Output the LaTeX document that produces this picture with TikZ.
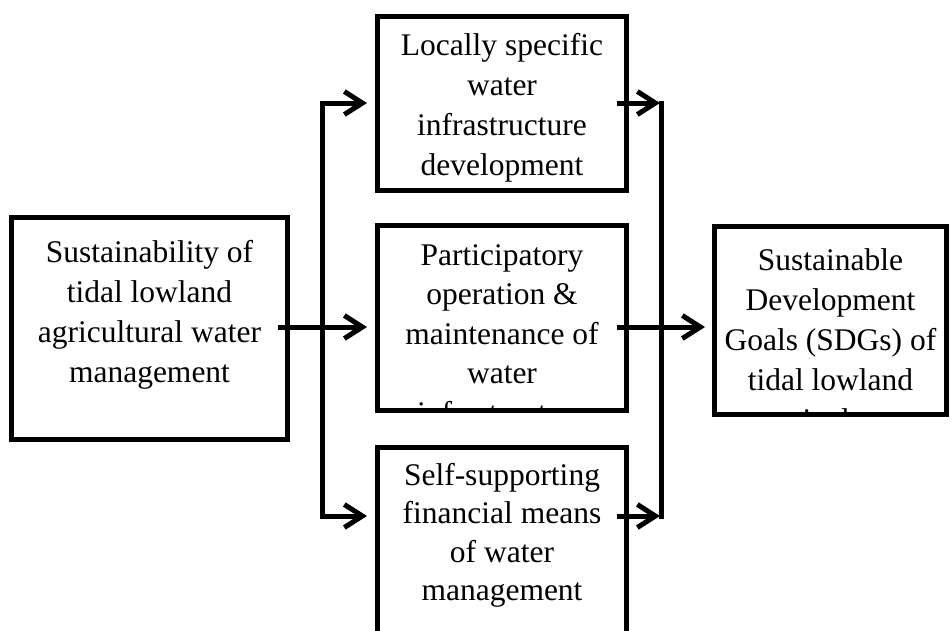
\documentclass[tikz,border=0pt]{standalone}
\usepackage{fontspec}
\setmainfont{Liberation Serif}
\usetikzlibrary{arrows.meta}
\newcommand\boxfont[1]{\fontsize{31.5}{#1}\selectfont}
\tikzset{
  box/.style={draw=black, line width=5pt, inner sep=0pt, fill=white},
  txt/.style={anchor=north, inner sep=0pt, align=flush center, text width=#1},
  conn/.style={draw=black, line width=5pt},
  myb/.tip={Straight Barb[length=18pt,width=23pt]}
}
\begin{document}
\begin{tikzpicture}[x=1pt,y=-1pt]
\clip (0,0) rectangle (951,630);
\fill[white] (0,0) rectangle (951,630);
% boxes
\node[box, minimum width=276pt, minimum height=222pt] (src) at (149.5,328.5) {};
\node[box, minimum width=249pt, minimum height=174pt] (infra) at (502,103.5) {};
\node[box, minimum width=249pt, minimum height=185pt] (om) at (502,318) {};
\node[box, minimum width=249pt, minimum height=220pt] (fin) at (502,557.5) {};
\node[box, minimum width=232pt, minimum height=188pt] (sdg) at (830.5,320.5) {};
% texts
\begin{scope}
\clip ([shift={(2.5pt,2.5pt)}]src.south west) rectangle ([shift={(-2.5pt,-2.5pt)}]src.north east);
\node[txt=270pt, font=\boxfont{40}] (srctext) at (149.5,237) {\rule{0pt}{25pt}Sustainability of\\tidal lowland\\agricultural water\\management};
\end{scope}
\begin{scope}
\clip ([shift={(2.5pt,2.5pt)}]infra.south west) rectangle ([shift={(-2.5pt,-2.5pt)}]infra.north east);
\node[txt=242pt, font=\boxfont{40}] (infratext) at (502,30) {\rule{0pt}{25pt}Locally specific\\water\\infrastructure\\development};
\end{scope}
\begin{scope}
\clip ([shift={(2.5pt,2.5pt)}]om.south west) rectangle ([shift={(-2.5pt,-2.5pt)}]om.north east);
\node[txt=242pt, font=\boxfont{39.5}] (omtext) at (502,240) {\rule{0pt}{25pt}Participatory\\operation \&\\maintenance of\\water\\infrastructure};
\end{scope}
\begin{scope}
\clip ([shift={(2.5pt,2.5pt)}]fin.south west) rectangle ([shift={(-2.5pt,-2.5pt)}]fin.north east);
\node[txt=242pt, font=\boxfont{38.5}] (fintext) at (502,460) {\rule{0pt}{25pt}Self-supporting\\financial means\\of water\\management};
\end{scope}
\begin{scope}
\clip ([shift={(2.5pt,2.5pt)}]sdg.south west) rectangle ([shift={(-2.5pt,-2.5pt)}]sdg.north east);
\node[txt=226pt, font=\boxfont{40}] (sdgtext) at (830.5,245) {\rule{0pt}{25pt}Sustainable\\Development\\Goals (SDGs) of\\tidal lowland\\agriculture};
\end{scope}
% connector points
\coordinate (srcout) at (278,327);
\coordinate (ltop) at (322,103);
\coordinate (lbot) at (322,516);
\coordinate (infrain) at (367,103);
\coordinate (omin) at (367,327);
\coordinate (finin) at (367,516);
\coordinate (infraout) at (617,103);
\coordinate (omout) at (617,327);
\coordinate (finout) at (617,516);
\coordinate (rtop) at (661,100.5);
\coordinate (rbot) at (661,518.5);
\coordinate (rtipT) at (660,103);
\coordinate (rtipB) at (660,516);
\coordinate (sdgin) at (705,327);
% connectors
\draw[conn, -{myb}] (srcout) -- (omin);
\draw[conn, {myb}-{myb}] (infrain) -- (ltop) -- (lbot) -- (finin);
\draw[conn] (rtop) -- (rbot);
\draw[conn, -{myb}] (infraout) -- (rtipT);
\draw[conn, -{myb}] (finout) -- (rtipB);
\draw[conn, -{myb}] (omout) -- (sdgin);
\end{tikzpicture}
\end{document}
